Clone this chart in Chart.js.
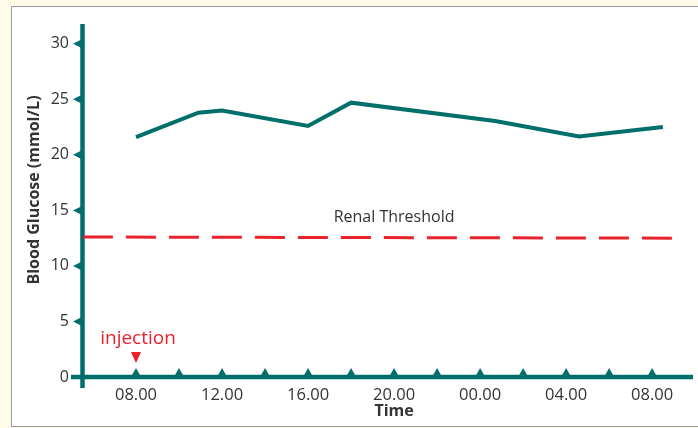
<!DOCTYPE html>
<html>
<head>
<meta charset="utf-8">
<script src="https://cdn.jsdelivr.net/npm/chart.js@4/dist/chart.umd.min.js"></script>
<style>
  html, body { margin: 0; padding: 0; background: #fffbe8; }
  #glucose { display: block; }
</style>
</head>
<body>
<canvas id="glucose" width="698" height="428"></canvas>
<script>
// hours after the 08.00 injection
var hours = [0, 2.9, 4, 8, 10, 16.7, 20.6, 24.5];
var glucose = [21.6, 23.8, 24.0, 22.6, 24.7, 23.05, 21.65, 22.5];

var thresholdHours = [-2.47, 25.1];
var threshold = [12.6, 12.5];

var timeTicks = [0, 4, 8, 12, 16, 20, 24];
var timeLabels = ["08.00", "12.00", "16.00", "20.00", "00.00", "04.00", "08.00"];
var minorTicks = [0, 2, 4, 6, 8, 10, 12, 14, 16, 18, 20, 22, 24];
var glucoseTicks = [0, 5, 10, 15, 20, 25, 30];

var teal = "#006f6c";
var red = "#e8232d";
var textCol = "#333333";

var linePts = hours.map(function (h, i) { return { x: h, y: glucose[i] }; });
var threshPts = thresholdHours.map(function (h, i) { return { x: h, y: threshold[i] }; });

var decor = {
    id: "decor",
    beforeDraw: function (chart) {
        var ctx = chart.ctx;
        ctx.save();
        ctx.fillStyle = "#fffbe8";
        ctx.fillRect(0, 0, chart.width, chart.height);
        ctx.fillStyle = "#ffffff";
        ctx.fillRect(11, 6, 720, 420);
        ctx.strokeStyle = "#9a9a9a";
        ctx.lineWidth = 1;
        ctx.strokeRect(11.5, 6.5, 720, 420);
        ctx.restore();
    },
    beforeDatasetsDraw: function (chart) {
        var ctx = chart.ctx;
        var xs = chart.scales.x, ys = chart.scales.y;
        var x0 = xs.getPixelForValue(xs.min);
        var y0 = ys.getPixelForValue(0);
        ctx.save();
        ctx.strokeStyle = teal;
        ctx.fillStyle = teal;
        ctx.lineWidth = 4.5;
        // axes
        ctx.beginPath();
        ctx.moveTo(x0 - 0.5, ys.getPixelForValue(ys.max));
        ctx.lineTo(x0 - 0.5, ys.getPixelForValue(-1));
        ctx.stroke();
        ctx.beginPath();
        ctx.moveTo(x0 - 12, y0);
        ctx.lineTo(xs.getPixelForValue(xs.max), y0);
        ctx.stroke();
        // y tick triangles
        glucoseTicks.forEach(function (v) {
            if (v === 0) return;
            var py = ys.getPixelForValue(v);
            ctx.beginPath();
            ctx.moveTo(x0 - 10, py);
            ctx.lineTo(x0 - 2, py - 4);
            ctx.lineTo(x0 - 2, py + 4);
            ctx.closePath();
            ctx.fill();
        });
        // x tick triangles
        minorTicks.forEach(function (h) {
            var px = xs.getPixelForValue(h);
            ctx.beginPath();
            ctx.moveTo(px, y0 - 9);
            ctx.lineTo(px - 4.5, y0 - 1);
            ctx.lineTo(px + 4.5, y0 - 1);
            ctx.closePath();
            ctx.fill();
        });

        // injection marker
        var ix = xs.getPixelForValue(0);
        ctx.fillStyle = red;
        ctx.beginPath();
        ctx.moveTo(ix - 5, y0 - 25);
        ctx.lineTo(ix + 5, y0 - 25);
        ctx.lineTo(ix, y0 - 14);
        ctx.closePath();
        ctx.fill();
        ctx.font = "19px 'Open Sans'";
        ctx.textAlign = "center";
        ctx.textBaseline = "alphabetic";
        ctx.fillText("injection", ix + 2, y0 - 33);

        // threshold label
        ctx.fillStyle = textCol;
        ctx.font = "16px 'Open Sans'";
        ctx.fillText("Renal Threshold", xs.getPixelForValue(12), ys.getPixelForValue(threshold[0]) - 15);

        // axis titles
        ctx.font = "bold 16px 'Open Sans'";
        ctx.textBaseline = "middle";
        ctx.fillText("Time", xs.getPixelForValue(12), 411);
        ctx.translate(34, 190);
        ctx.rotate(-Math.PI / 2);
        ctx.fillText("Blood Glucose (mmol/L)", 0, 0);
        ctx.restore();
    }
};

var ctx = document.getElementById("glucose");
var chart = new Chart(ctx, {
    type: "line",
    data: {
        datasets: [
            {
                data: linePts,
                borderColor: teal,
                borderWidth: 4,
                pointRadius: 0,
                tension: 0,
                fill: false
            },
            {
                data: threshPts,
                borderColor: red,
                borderWidth: 3,
                borderDash: [30, 13],
                pointRadius: 0,
                fill: false
            }
        ]
    },
    options: {
        responsive: false,
        animation: false,
        events: [],
        layout: { padding: { top: 24, right: 5, left: 0, bottom: 0 } },
        plugins: {
            legend: { display: false },
            tooltip: { enabled: false }
        },
        scales: {
            x: {
                type: "linear",
                min: -2.465,
                max: 25.9,
                grid: { display: false, drawTicks: false },
                border: { display: false },
                afterBuildTicks: function (scale) {
                    scale.ticks = timeTicks.map(function (v) { return { value: v }; });
                },
                afterFit: function (scale) { scale.height = 51; },
                ticks: {
                    autoSkip: false,
                    maxRotation: 0,
                    padding: 8,
                    color: textCol,
                    font: { family: "'Open Sans'", size: 16.5 },
                    callback: function (v, i) { return timeLabels[i]; }
                }
            },
            y: {
                min: 0,
                max: 31.78,
                grid: { display: false, drawTicks: false },
                border: { display: false },
                afterBuildTicks: function (scale) {
                    scale.ticks = glucoseTicks.map(function (v) { return { value: v }; });
                },
                afterFit: function (scale) { scale.width = 83; },
                ticks: {
                    padding: 14,
                    color: textCol,
                    font: { family: "'Open Sans'", size: 16 }
                }
            }
        }
    },
    plugins: [decor]
});
</script>
</body>
</html>
